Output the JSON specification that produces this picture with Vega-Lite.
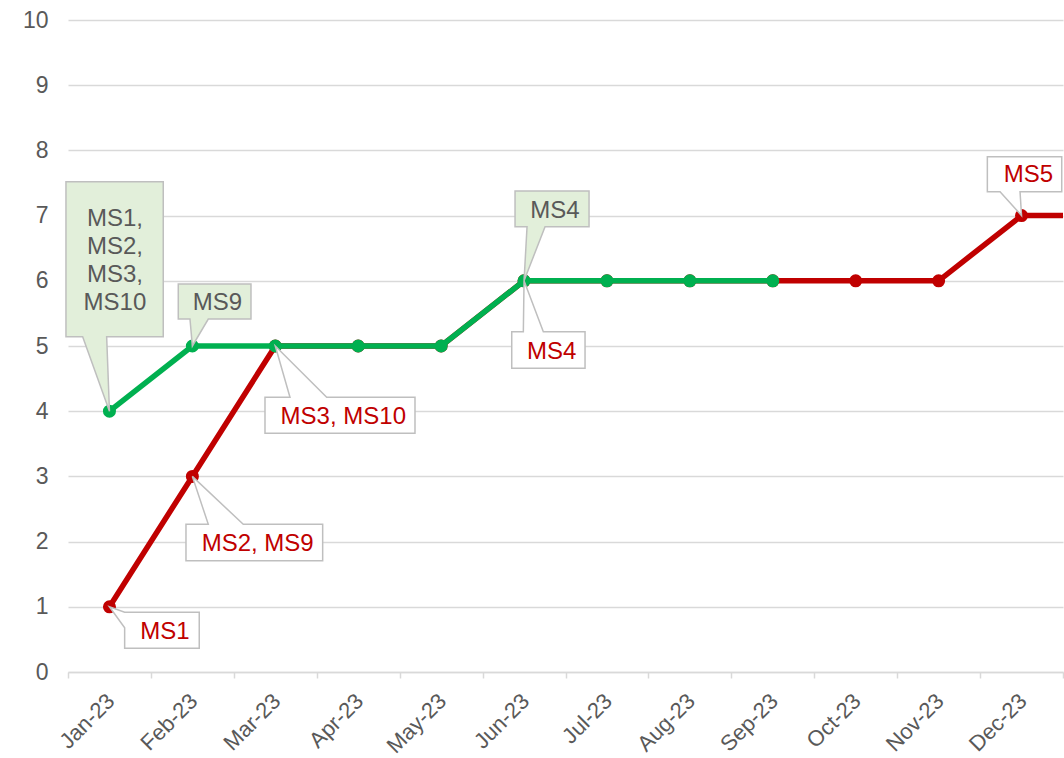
{
  "$schema": "https://vega.github.io/schema/vega-lite/v6.json",
  "width": 995,
  "height": 652,
  "autosize": {"type": "none"},
  "padding": {"left": 68, "top": 20, "right": 1, "bottom": 86},
  "background": "#ffffff",
  "config": {
    "view": {"stroke": null},
    "font": "Liberation Sans",
    "axis": {"labelFont": "Liberation Sans", "labelFontSize": 23, "labelColor": "#595959"}
  },
  "datasets": {
    "series": [
      {"series": "Plan", "month": "Jan-23", "m": 1, "value": 1},
      {"series": "Plan", "month": "Feb-23", "m": 2, "value": 3},
      {"series": "Plan", "month": "Mar-23", "m": 3, "value": 5},
      {"series": "Plan", "month": "Apr-23", "m": 4, "value": 5},
      {"series": "Plan", "month": "May-23", "m": 5, "value": 5},
      {"series": "Plan", "month": "Jun-23", "m": 6, "value": 6},
      {"series": "Plan", "month": "Jul-23", "m": 7, "value": 6},
      {"series": "Plan", "month": "Aug-23", "m": 8, "value": 6},
      {"series": "Plan", "month": "Sep-23", "m": 9, "value": 6},
      {"series": "Plan", "month": "Oct-23", "m": 10, "value": 6},
      {"series": "Plan", "month": "Nov-23", "m": 11, "value": 6},
      {"series": "Plan", "month": "Dec-23", "m": 12, "value": 7},
      {"series": "Plan", "month": "Jan-24", "m": 13, "value": 7},
      {"series": "Actual", "month": "Jan-23", "m": 1, "value": 4},
      {"series": "Actual", "month": "Feb-23", "m": 2, "value": 5},
      {"series": "Actual", "month": "Mar-23", "m": 3, "value": 5},
      {"series": "Actual", "month": "Apr-23", "m": 4, "value": 5},
      {"series": "Actual", "month": "May-23", "m": 5, "value": 5},
      {"series": "Actual", "month": "Jun-23", "m": 6, "value": 6},
      {"series": "Actual", "month": "Jul-23", "m": 7, "value": 6},
      {"series": "Actual", "month": "Aug-23", "m": 8, "value": 6},
      {"series": "Actual", "month": "Sep-23", "m": 9, "value": 6}
    ],
    "callouts": [
      {"id": "c1", "series": "Actual", "month": "Jan-23", "m": 1, "value": 4, "label": "MS1,\nMS2,\nMS3,\nMS10"},
      {"id": "c2", "series": "Actual", "month": "Feb-23", "m": 2, "value": 5, "label": "MS9"},
      {"id": "c3", "series": "Actual", "month": "Jun-23", "m": 6, "value": 6, "label": "MS4"},
      {"id": "c4", "series": "Plan", "month": "Jun-23", "m": 6, "value": 6, "label": "MS4"},
      {"id": "c5", "series": "Plan", "month": "Jan-23", "m": 1, "value": 1, "label": "MS1"},
      {"id": "c6", "series": "Plan", "month": "Feb-23", "m": 2, "value": 3, "label": "MS2, MS9"},
      {"id": "c7", "series": "Plan", "month": "Mar-23", "m": 3, "value": 5, "label": "MS3, MS10"},
      {"id": "c8", "series": "Plan", "month": "Dec-23", "m": 12, "value": 7, "label": "MS5"}
    ]
  },
  "encoding": {
    "x": {
      "field": "m",
      "type": "quantitative",
      "title": null,
      "scale": {"domain": [0.5, 12.5], "nice": false, "zero": false},
      "axis": {
        "values": [0.5, 1, 1.5, 2, 2.5, 3, 3.5, 4, 4.5, 5, 5.5, 6, 6.5, 7, 7.5, 8, 8.5, 9, 9.5, 10, 10.5, 11, 11.5, 12, 12.5],
        "labelExpr": "datum.value % 1 === 0 ? ['Jan-23','Feb-23','Mar-23','Apr-23','May-23','Jun-23','Jul-23','Aug-23','Sep-23','Oct-23','Nov-23','Dec-23'][datum.value - 1] : ''",
        "grid": false,
        "domainColor": "#d9d9d9",
        "domainWidth": 1.5,
        "tickColor": "#d9d9d9",
        "tickWidth": 1.5,
        "tickSize": 6,
        "tickOpacity": {"condition": {"test": "datum.value % 1 === 0", "value": 0}, "value": 1},
        "labelAngle": -45,
        "labelFontSize": 22,
        "labelColor": "#595959",
        "labelPadding": 12,
        "labelOffset": -6,
        "labelOverlap": false,
        "labelFlush": false,
        "labelBound": false
      }
    },
    "y": {
      "field": "value",
      "type": "quantitative",
      "title": null,
      "scale": {"domain": [0, 10], "nice": false},
      "axis": {
        "values": [0, 1, 2, 3, 4, 5, 6, 7, 8, 9, 10],
        "grid": true,
        "gridColor": "#d9d9d9",
        "gridWidth": 1.5,
        "domain": false,
        "ticks": false,
        "labelFontSize": 23,
        "labelColor": "#595959",
        "labelPadding": 20
      }
    }
  },
  "layer": [
    {
      "data": {"name": "series"},
      "transform": [{"filter": "datum.series === 'Plan'"}],
      "mark": {"type": "line", "color": "#C00000", "strokeWidth": 5.5, "clip": true}
    },
    {
      "data": {"name": "series"},
      "transform": [{"filter": "datum.series === 'Plan' && datum.m <= 12"}],
      "mark": {"type": "circle", "color": "#C00000", "size": 170, "opacity": 1}
    },
    {
      "data": {"name": "series"},
      "transform": [{"filter": "datum.series === 'Actual'"}],
      "mark": {"type": "line", "color": "#00B050", "strokeWidth": 5.5}
    },
    {
      "data": {"name": "series"},
      "transform": [{"filter": "datum.series === 'Actual'"}],
      "mark": {"type": "circle", "color": "#00B050", "size": 170, "opacity": 1}
    },
    {
      "data": {"name": "callouts"},
      "mark": {"type": "point", "filled": true, "size": 4, "stroke": "#bfbfbf", "strokeWidth": 1.5, "opacity": 1, "fillOpacity": 1, "strokeOpacity": 1},
      "encoding": {
        "shape": {
          "field": "id",
          "type": "nominal",
          "legend": null,
          "scale": {
            "domain": ["c1", "c2", "c3", "c4", "c5", "c6", "c7", "c8"],
            "range": [
              "M-43.5,-229.5H53.8V-74.5H-2.8L0,0L-26.8,-74.5H-43.5Z",
              "M-14.1,-62H58.6V-27H15.9L0,0L-2.4,-27H-14.1Z",
              "M-9,-89.8H65V-54.1H21L0,0L3,-54.1H-9Z",
              "M-12.3,50.9H-0.7L0,0L19.3,50.9H61V87.5H-12.3Z",
              "M15.2,5.5H89.8V41.5H15.2V20.9L0,0Z",
              "M-6.4,47.9H15.9L0,0L50.9,47.9H130.3V84.3H-6.4Z",
              "M-10.3,51.3H14.7L0,0L51.4,51.3H139.7V87.3H-10.3Z",
              "M-34.2,-58.9H40.2V-23.9H-1.5L0,0L-21.5,-23.9H-34.2Z"
            ]
          }
        },
        "fill": {
          "field": "series",
          "type": "nominal",
          "legend": null,
          "scale": {"domain": ["Actual", "Plan"], "range": ["#E2EFDA", "#FFFFFF"]}
        }
      }
    },
    {
      "data": {"name": "callouts"},
      "transform": [{"filter": "datum.id === 'c1'"}],
      "mark": {"type": "text", "font": "Liberation Sans", "fontSize": 24, "color": "#595959", "align": "center", "baseline": "middle", "lineBreak": "\n", "lineHeight": 28, "dx": 5.5, "dy": -192},
      "encoding": {"text": {"field": "label"}}
    },
    {
      "data": {"name": "callouts"},
      "transform": [{"filter": "datum.id === 'c2'"}],
      "mark": {"type": "text", "font": "Liberation Sans", "fontSize": 24, "color": "#595959", "align": "center", "baseline": "middle", "dx": 25, "dy": -43.5},
      "encoding": {"text": {"field": "label"}}
    },
    {
      "data": {"name": "callouts"},
      "transform": [{"filter": "datum.id === 'c3'"}],
      "mark": {"type": "text", "font": "Liberation Sans", "fontSize": 24, "color": "#595959", "align": "center", "baseline": "middle", "dx": 31, "dy": -69.5},
      "encoding": {"text": {"field": "label"}}
    },
    {
      "data": {"name": "callouts"},
      "transform": [{"filter": "datum.id === 'c4'"}],
      "mark": {"type": "text", "font": "Liberation Sans", "fontSize": 24, "color": "#C00000", "align": "center", "baseline": "middle", "dx": 27.7, "dy": 71},
      "encoding": {"text": {"field": "label"}}
    },
    {
      "data": {"name": "callouts"},
      "transform": [{"filter": "datum.id === 'c5'"}],
      "mark": {"type": "text", "font": "Liberation Sans", "fontSize": 24, "color": "#C00000", "align": "center", "baseline": "middle", "dx": 55.5, "dy": 25},
      "encoding": {"text": {"field": "label"}}
    },
    {
      "data": {"name": "callouts"},
      "transform": [{"filter": "datum.id === 'c6'"}],
      "mark": {"type": "text", "font": "Liberation Sans", "fontSize": 24, "color": "#C00000", "align": "center", "baseline": "middle", "dx": 65.3, "dy": 67.5},
      "encoding": {"text": {"field": "label"}}
    },
    {
      "data": {"name": "callouts"},
      "transform": [{"filter": "datum.id === 'c7'"}],
      "mark": {"type": "text", "font": "Liberation Sans", "fontSize": 24, "color": "#C00000", "align": "center", "baseline": "middle", "dx": 68, "dy": 70.5},
      "encoding": {"text": {"field": "label"}}
    },
    {
      "data": {"name": "callouts"},
      "transform": [{"filter": "datum.id === 'c8'"}],
      "mark": {"type": "text", "font": "Liberation Sans", "fontSize": 24, "color": "#C00000", "align": "center", "baseline": "middle", "dx": 6.8, "dy": -40.5},
      "encoding": {"text": {"field": "label"}}
    }
  ]
}
